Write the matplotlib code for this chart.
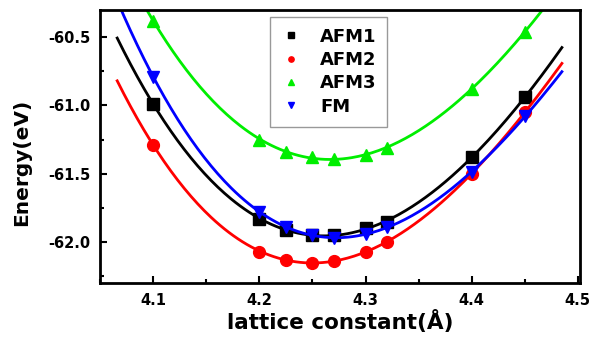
import numpy as np
import matplotlib.pyplot as plt
from matplotlib.ticker import MultipleLocator

plt.rcParams['font.family'] = ['DejaVu Sans']
plt.rcParams['font.weight'] = 'bold'
plt.rcParams['axes.unicode_minus'] = False

# lattice constants (Å)
a = [4.10, 4.20, 4.225, 4.25, 4.27, 4.30, 4.32, 4.40, 4.45]

afm1 = [-60.99, -61.83, -61.91, -61.95, -61.95, -61.90, -61.85, -61.38, -60.94]
afm2 = [-61.29, -62.07, -62.13, -62.15, -62.14, -62.07, -62.00, -61.50, -61.05]
afm3 = [-60.38, -61.25, -61.34, -61.38, -61.39, -61.36, -61.31, -60.88, -60.46]
fm = [-60.79, -61.78, -61.89, -61.95, -61.97, -61.94, -61.89, -61.49, -61.08]

fig = plt.figure(figsize=(5.93, 3.41), dpi=100)
ax = fig.add_axes([0.169, 0.170, 0.809, 0.801])

xs = np.linspace(4.066, 4.485, 200)
series = [
    ('AFM1', afm1, 'black', 's'),
    ('AFM2', afm2, 'red', 'o'),
    ('AFM3', afm3, '#00ee00', '^'),
    ('FM', fm, 'blue', 'v'),
]
for name, e, c, m in series:
    # smooth fit through the points
    p = np.polyfit(a, e, 3)
    ax.plot(xs, np.polyval(p, xs), color=c, lw=2)
    ax.plot(a, e, linestyle='none', marker=m, color=c, ms=8.5, label=name)

ax.set_xlim(4.05, 4.502)
ax.set_ylim(-62.3, -60.3)
ax.xaxis.set_major_locator(MultipleLocator(0.1))
ax.xaxis.set_minor_locator(MultipleLocator(0.05))
ax.yaxis.set_major_locator(MultipleLocator(0.5))
ax.yaxis.set_minor_locator(MultipleLocator(0.25))
ax.tick_params(which='both', direction='in', width=1.5, labelsize=10.5)
ax.tick_params(which='major', length=5, pad=7)
ax.tick_params(which='minor', length=3)
for s in ax.spines.values():
    s.set_linewidth(2)

ax.set_xlabel('lattice constant(Å)', fontsize=15.5, fontweight='bold')
ax.xaxis.set_label_coords(0.5, -0.097)
ax.set_ylabel('Energy(eV)', fontsize=14.5, fontweight='bold')
ax.yaxis.set_label_coords(-0.145, 0.44)

leg = ax.legend(loc='upper left', bbox_to_anchor=(0.353, 0.975), fontsize=13,
                markerscale=0.45, handlelength=1.2, handletextpad=1.0,
                fancybox=False, edgecolor='gray', labelspacing=0.3,
                borderpad=0.6, borderaxespad=0)
leg.get_frame().set_linewidth(1)

fig.savefig('out.png', dpi=100)
